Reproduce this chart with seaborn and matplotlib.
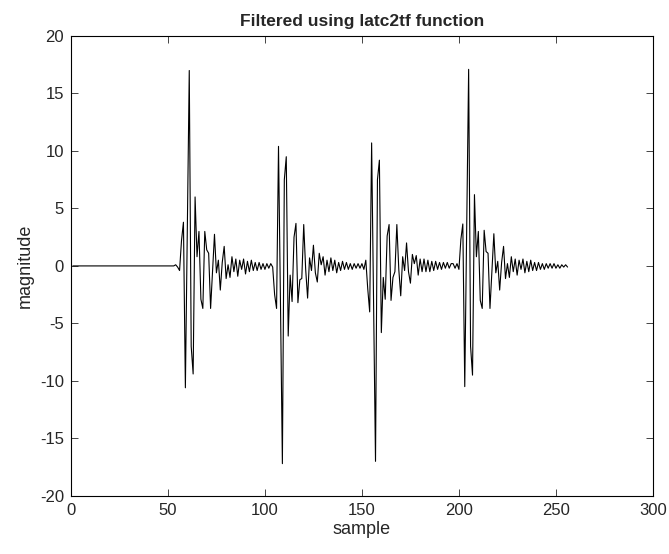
import numpy as np
import matplotlib
matplotlib.use('Agg')
import matplotlib.pyplot as plt
import seaborn as sns

# Values (sample index starts at 1)
LEADING_ZEROS = 52  # samples 1..52 are flat

# samples 53..100
burst_1 = [0.0, 0.1, -0.1, -0.4, 2.2, 3.8, -10.6, 3.0, 17.0, -7.0,
           -9.4, 6.0, 0.8, 3.0, -2.9, -3.7, 3.0, 1.4, 1.1, -3.7,
           -0.5, 2.75, -0.6, 0.5, -2.1, 0.3, 1.7, -1.1, 0.1, -1.0,
           0.8, -0.5, 0.6, -0.9, 0.5, -0.3, 0.6, -0.7, 0.4, -0.5,
           0.5, -0.4, 0.3, -0.4, 0.3, -0.3, 0.2, -0.3]

# samples 101..148
burst_2 = [0.2, -0.2, 0.2, -0.1, -2.5, -3.7, 10.4, -3.0, -17.2, 7.5,
           9.5, -6.1, -0.8, -3.1, 2.5, 3.7, -3.2, -1.2, -1.1, 3.6,
           -0.3, -2.8, 0.7, -0.4, 1.8, -0.6, -1.4, 1.1, 0.1, 0.8,
           -0.8, 0.5, -0.5, 0.7, -0.4, 0.5, -0.6, 0.3, -0.4, 0.4,
           -0.3, 0.3, -0.3, 0.2, -0.3, 0.2, -0.2, 0.2]

# samples 149..196
burst_3 = [-0.2, 0.2, -0.3, 0.5, -2.0, -4.0, 10.7, -3.0, -17.0, 7.5,
           9.2, -5.8, -1.0, -2.9, 2.6, 3.6, -3.0, -1.0, -0.5, 3.6,
           -0.3, -2.6, 0.8, -0.4, 2.0, -0.5, -1.5, 1.0, 0.2, 0.9,
           -0.8, 0.6, -0.5, 0.6, -0.5, 0.5, -0.5, 0.4, -0.4, 0.4,
           -0.3, 0.3, -0.3, 0.3, -0.2, 0.3, -0.2, 0.2]

# samples 197..256
burst_4 = [0.2, -0.2, 0.2, -0.3, 2.3, 3.65, -10.5, 3.0, 17.1, -7.0,
           -9.5, 6.2, 0.8, 3.0, -3.0, -3.7, 3.1, 1.25, 1.1, -3.7,
           -0.5, 2.8, -0.6, 0.4, -2.1, 0.3, 1.7, -1.1, 0.2, -1.0,
           0.8, -0.5, 0.6, -0.8, 0.5, -0.3, 0.6, -0.6, 0.4, -0.5,
           0.5, -0.4, 0.3, -0.4, 0.3, -0.3, 0.2, -0.3, 0.2, -0.2,
           0.2, -0.2, 0.2, -0.2, 0.1, -0.2, 0.1, -0.1, 0.1, -0.1]

x_ticks = [0, 50, 100, 150, 200, 250, 300]
y_ticks = [-20, -15, -10, -5, 0, 5, 10, 15, 20]

magnitude = [0.0] * LEADING_ZEROS + burst_1 + burst_2 + burst_3 + burst_4
sample = np.arange(1, len(magnitude) + 1)

sns.set_theme(style="ticks")
plt.rcParams['font.family'] = ['Liberation Sans', 'DejaVu Sans']
plt.rcParams['axes.unicode_minus'] = False
plt.rcParams['xtick.direction'] = 'in'
plt.rcParams['ytick.direction'] = 'in'

fig = plt.figure(figsize=(6.69, 5.54), dpi=100)
ax = fig.add_axes([0.106, 0.105, 0.870, 0.830])

sns.lineplot(x=sample, y=magnitude, color='black', linewidth=0.8, ax=ax)

ax.set_xlim(0, 300)
ax.set_ylim(-20, 20)
ax.set_xticks(x_ticks)
ax.set_yticks(y_ticks)
ax.tick_params(top=True, right=True, length=5, width=0.6, labelsize=12, pad=5)
for spine in ax.spines.values():
    spine.set_linewidth(0.8)
    spine.set_color('black')

ax.set_xlabel('sample', fontsize=13, labelpad=2)
ax.set_ylabel('magnitude', fontsize=13, labelpad=4)
ax.set_title('Filtered using latc2tf function', fontsize=12.5, fontweight='bold', pad=7)

fig.savefig('out.png', dpi=100)
plt.close(fig)
